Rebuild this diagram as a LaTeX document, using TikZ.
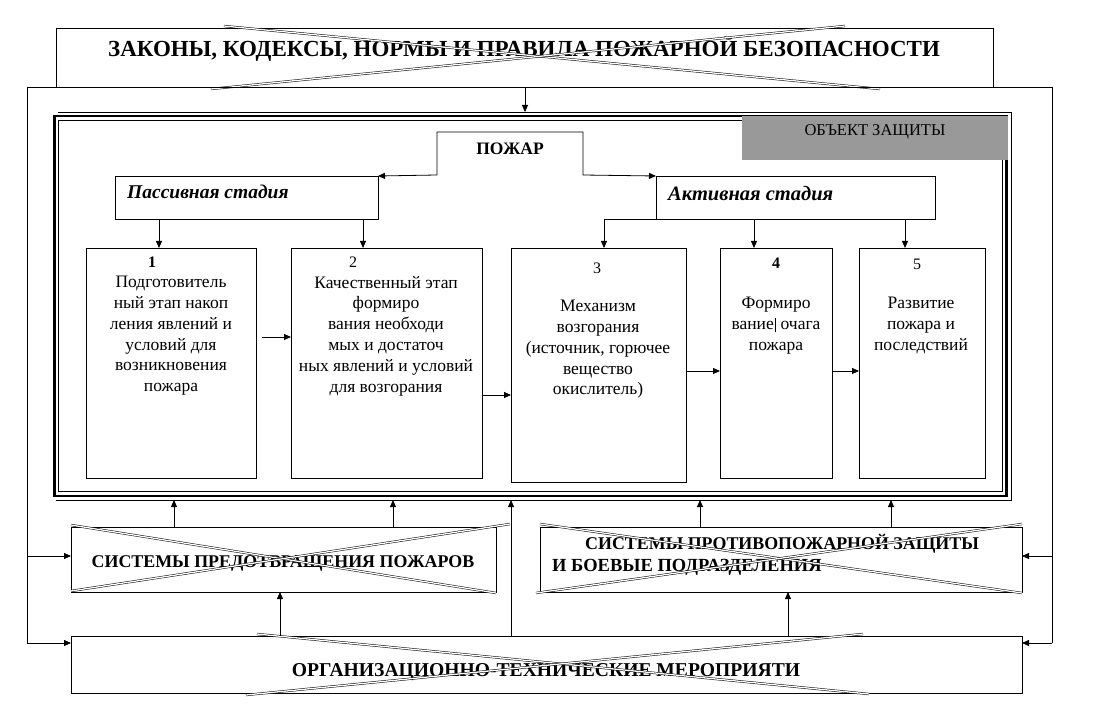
\documentclass[tikz,border=0pt]{standalone}
\usepackage{fontspec}
\setmainfont{Liberation Serif}
\usetikzlibrary{arrows.meta,calc}
\begin{document}
\begin{tikzpicture}[x=1pt,y=-1pt,
  box/.style={draw,line width=0.9pt,anchor=north west,inner sep=0pt,outer sep=0pt},
  ghost/.style={draw=none,anchor=north west,inner sep=0pt,outer sep=0pt},
  arr/.style={line width=0.8pt,-{Triangle[length=7pt,width=6pt]}},
  ln/.style={line width=0.8pt},
  xline/.style={double,line width=0.5pt,double distance=1.3pt},
  btxt/.style={font=\fontsize{17.5}{20.8}\selectfont,align=center,anchor=north,inner sep=0pt},
  ntxt/.style={font=\fontsize{16}{18}\selectfont,inner sep=0pt},
  captxt/.style={font=\bfseries\fontsize{17.9}{22}\selectfont,inner sep=0pt},
  stagetxt/.style={font=\bfseries\itshape\fontsize{19.5}{20}\selectfont,inner sep=0pt,anchor=base west},
]
\useasboundingbox (0,0) rectangle (1103,719);

% top box: laws
\node[box,minimum width=937pt,minimum height=59pt] (law) at (56,28) {};
\node[font=\bfseries\fontsize{23}{24}\selectfont,inner sep=0pt] (lawt) at (524,49) {ЗАКОНЫ, КОДЕКСЫ, НОРМЫ И ПРАВИЛА ПОЖАРНОЙ БЕЗОПАСНОСТИ};
\draw[xline] (224,26) -- (880,89);
\draw[xline] (845,26) -- (211,89);

% outer loop
\coordinate (oTL) at (27,87);
\coordinate (oTR) at (1052,87);
\coordinate (oL1) at (27,556);
\coordinate (oL2) at (27,643);
\coordinate (oR1) at (1052,556);
\coordinate (oR2) at (1052,643);
\draw[ln] (oL2) -- (oTL) -- (oTR) -- (oR2);

% frame (object of protection)
\node[box,line width=2.6pt,minimum width=952pt,minimum height=380pt] (frame) at (54.5,116) {};
\node[ghost,minimum width=955pt,minimum height=388pt] (frameout) at (56,112) {};
\draw[ln] (58.5,120.5) rectangle (1002.5,491.5);
\draw[ln] (frameout.north west) ++(2,0) -- (frameout.north east) -- (frameout.south east) -- (frameout.south west);
\draw[arr] (525,0 |- law.south) -- (525,0 |- frameout.north);

% gray label
\node[ghost,fill={rgb,255:red,153;green,153;blue,153},minimum width=266pt,minimum height=44pt] (obj) at (742,116) {};
\node[font=\fontsize{16.5}{18}\selectfont,inner sep=0pt] (objt) at (875,132) {ОБЪЕКТ ЗАЩИТЫ};

% fire and stages
\node[ghost,minimum width=146pt,minimum height=43pt] (fire) at (437,132) {};
\node[captxt,font=\bfseries\fontsize{17.5}{18}\selectfont] (firet) at (510,149) {ПОЖАР};
\node[box,minimum width=263pt,minimum height=43pt] (pas) at (115,176) {};
\node[stagetxt] (past) at (127,199) {Пассивная стадия};
\node[box,minimum width=279pt,minimum height=43pt] (act) at (656,176) {};
\node[stagetxt,font=\bfseries\itshape\fontsize{20.5}{20}\selectfont] (actt) at (668,201) {Активная стадия};
\draw[line width=0.8pt,{Triangle[length=7pt,width=6pt]}-{Triangle[length=7pt,width=6pt]}]
  (pas.north east) -- (fire.south west) -- (fire.north west) -- (fire.north east) -- (fire.south east) -- (act.north west);

% stage boxes
\node[box,minimum width=170pt,minimum height=230pt] (b1) at (86,248) {};
\node[box,minimum width=191pt,minimum height=230pt] (b2) at (291,248) {};
\node[box,minimum width=175pt,minimum height=234pt] (b3) at (511,248) {};
\node[box,minimum width=112pt,minimum height=230pt] (b4) at (720,248) {};
\node[box,minimum width=126pt,minimum height=230pt] (b5) at (859,248) {};

\node[ntxt,font=\bfseries\fontsize{16}{18}\selectfont] (n1) at (152,262) {1};
\node[ntxt] (n2) at (353,262) {2};
\node[ntxt] (n3) at (597,268) {3};
\node[ntxt,font=\bfseries\fontsize{16}{18}\selectfont] (n4) at (776,263) {4};
\node[ntxt] (n5) at (917,264) {5};

\node[btxt] (t1) at (171,276) {Подготовитель\\ный этап накоп\\ления явлений и\\условий для\\возникновения\\пожара};
\node[btxt] (t2) at (386,276) {Качественный этап\\формиро\\вания необходи\\мых и достаточ\\ных явлений и условий\\для возгорания};
\node[btxt] (t3) at (598,300) {Механизм\\возгорания\\(источник, горючее\\вещество\\окислитель)};
\node[btxt] (t4) at (776,297) {Формиро\\вание\kern1pt\vrule height 11pt depth 3pt\kern1pt{} очага\\пожара};
\node[btxt] (t5) at (921,297) {Развитие\\пожара и\\последствий};

% arrows from stages
\draw[arr] (159,0 |- pas.south) -- (159,0 |- b1.north);
\draw[arr] (363,0 |- pas.south) -- (363,0 |- b2.north);
\draw[arr] (act.south west) -- (604,0 |- act.south) -- (604,0 |- b3.north);
\draw[arr] (754,0 |- act.south) -- (754,0 |- b4.north);
\draw[arr] (905,0 |- act.south) -- (905,0 |- b5.north);

% arrows between boxes
\draw[arr] ($(b1.east |- 0,337)+(6,0)$) -- (b2.west |- 0,337);
\draw[arr] (b2.east |- 0,395) -- (b3.west |- 0,395);
\draw[arr] (b3.east |- 0,371) -- (b4.west |- 0,371);
\draw[arr] (b4.east |- 0,371) -- (b5.west |- 0,371);

% bottom systems
\node[box,minimum width=425pt,minimum height=65pt] (sys1) at (71,527) {};
\node[captxt] (sys1t) at (283,563) {СИСТЕМЫ ПРЕДОТВРАЩЕНИЯ ПОЖАРОВ};
\draw[xline] (71,525) -- (496,593);
\draw[xline] (510,524) -- (71,591);

\node[box,minimum width=482pt,minimum height=65pt] (sys2) at (540,527) {};
\node[captxt,anchor=base west] (sys2ta) at (585,549) {СИСТЕМЫ ПРОТИВОПОЖАРНОЙ ЗАЩИТЫ};
\node[captxt,anchor=base west,font=\bfseries\fontsize{18.5}{22}\selectfont] (sys2tb) at (552,571) {И БОЕВЫЕ ПОДРАЗДЕЛЕНИЯ};
\draw[xline] (540,524) -- (1022,593);
\draw[xline] (1022,524) -- (536,593);

\node[box,minimum width=951pt,minimum height=57pt] (org) at (71,636) {};
\node[captxt,font=\bfseries\fontsize{19.6}{22}\selectfont] (orgt) at (546,672) {ОРГАНИЗАЦИОННО-ТЕХНИЧЕСКИЕ МЕРОПРИЯТИ};
\draw[xline] (257,634) -- (869,694);
\draw[xline] (863,634) -- (246,695);

% arrows upward
\draw[arr] (174,0 |- sys1.north) -- (174,0 |- frameout.south);
\draw[arr] (393,0 |- sys1.north) -- (393,0 |- frameout.south);
\draw[arr] (700,0 |- sys2.north) -- (700,0 |- frameout.south);
\draw[arr] (891,0 |- sys2.north) -- (891,0 |- frameout.south);
\draw[arr] (511,0 |- org.north) -- (511,0 |- frameout.south);
\draw[arr] (280,0 |- org.north) -- (280,0 |- sys1.south);
\draw[arr] (788,0 |- org.north) -- (788,0 |- sys2.south);

% side arrows
\draw[arr] (oL1) -- (oL1 -| sys1.west);
\draw[arr] (oL2) -- (oL2 -| org.west);
\draw[arr] (oR1) -- (oR1 -| sys2.east);
\draw[arr] (oR2) -- (oR2 -| org.east);
\end{tikzpicture}
\end{document}
